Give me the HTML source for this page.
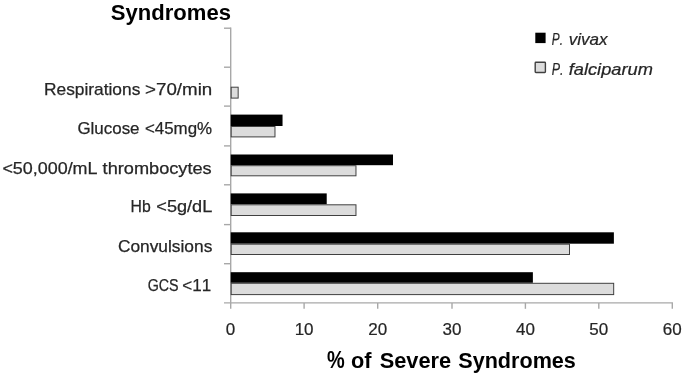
<!DOCTYPE html>
<html><head><meta charset="utf-8">
<style>
html,body{margin:0;padding:0;background:#fff;width:685px;height:376px;overflow:hidden}
svg{display:block;filter:blur(0.45px)}
text{font-family:"Liberation Sans",sans-serif;font-kerning:none}
.lab{font-size:16.4px;fill:#262626;stroke:#262626;stroke-width:0.25px}
.tick{font-size:17px;fill:#262626;stroke:#262626;stroke-width:0.22px}
.ttl{font-size:22px;font-weight:bold;fill:#000}
.leg{font-size:15.9px;font-style:italic;fill:#262626;stroke:#262626;stroke-width:0.22px}
</style></head>
<body>
<svg width="685" height="376" viewBox="0 0 685 376">
<text class="ttl" x="110.87" y="20.30" textLength="120.04" lengthAdjust="spacingAndGlyphs">Syndromes</text>
<text class="ttl" style="font-size:23.4px" x="327.10" y="368.00" textLength="17.72" lengthAdjust="spacingAndGlyphs">%</text>
<text class="ttl" x="351.05" y="368.00" textLength="20.51" lengthAdjust="spacingAndGlyphs">of</text>
<text class="ttl" x="379.67" y="368.00" textLength="71.47" lengthAdjust="spacingAndGlyphs">Severe</text>
<text class="ttl" x="458.28" y="368.00" textLength="117.61" lengthAdjust="spacingAndGlyphs">Syndromes</text>
<g stroke="#a8a8a8" stroke-width="1.4" fill="none">
<line x1="230.7" y1="27.5" x2="230.7" y2="308.8"/>
<line x1="224" y1="302.9" x2="673" y2="302.9"/>
<line x1="224" y1="28.20" x2="230.7" y2="28.20"/>
<line x1="224" y1="67.20" x2="230.7" y2="67.20"/>
<line x1="224" y1="106.10" x2="230.7" y2="106.10"/>
<line x1="224" y1="145.90" x2="230.7" y2="145.90"/>
<line x1="224" y1="184.80" x2="230.7" y2="184.80"/>
<line x1="224" y1="224.60" x2="230.7" y2="224.60"/>
<line x1="224" y1="263.70" x2="230.7" y2="263.70"/>
<line x1="304.10" y1="302.9" x2="304.10" y2="308.8"/>
<line x1="377.70" y1="302.9" x2="377.70" y2="308.8"/>
<line x1="452.00" y1="302.9" x2="452.00" y2="308.8"/>
<line x1="525.40" y1="302.9" x2="525.40" y2="308.8"/>
<line x1="598.80" y1="302.9" x2="598.80" y2="308.8"/>
<line x1="672.30" y1="302.9" x2="672.30" y2="308.8"/>
</g>
<g>
<rect x="231.2" y="87.20" width="6.96" height="10.90" fill="#dcdcdc" stroke="#404040" stroke-width="1"/>
<rect x="230.7" y="114.60" width="51.84" height="11.40" fill="#000"/>
<rect x="231.2" y="126.50" width="43.78" height="10.40" fill="#dcdcdc" stroke="#404040" stroke-width="1"/>
<rect x="230.7" y="154.50" width="162.29" height="10.70" fill="#000"/>
<rect x="231.2" y="165.70" width="124.77" height="10.10" fill="#dcdcdc" stroke="#404040" stroke-width="1"/>
<rect x="230.7" y="193.40" width="96.02" height="10.90" fill="#000"/>
<rect x="231.2" y="204.80" width="124.77" height="10.70" fill="#dcdcdc" stroke="#404040" stroke-width="1"/>
<rect x="230.7" y="232.30" width="383.18" height="11.40" fill="#000"/>
<rect x="231.2" y="244.20" width="338.30" height="10.30" fill="#dcdcdc" stroke="#404040" stroke-width="1"/>
<rect x="230.7" y="272.20" width="302.18" height="10.60" fill="#000"/>
<rect x="231.2" y="283.30" width="382.48" height="11.30" fill="#dcdcdc" stroke="#404040" stroke-width="1"/>
</g>
<text class="lab" x="43.98" y="95.20" textLength="96.35" lengthAdjust="spacingAndGlyphs">Respirations</text>
<text class="lab" style="font-size:16.8px" x="145.08" y="95.20" textLength="67.14" lengthAdjust="spacingAndGlyphs">&gt;70/min</text>
<text class="lab" x="77.45" y="134.00" textLength="62.10" lengthAdjust="spacingAndGlyphs">Glucose</text>
<text class="lab" style="font-size:16.8px" x="144.97" y="134.00" textLength="67.14" lengthAdjust="spacingAndGlyphs">&lt;45mg%</text>
<text class="lab" style="font-size:17px" x="2.42" y="173.90" textLength="95.08" lengthAdjust="spacingAndGlyphs">&lt;50,000/mL</text>
<text class="lab" x="102.63" y="173.90" textLength="109.03" lengthAdjust="spacingAndGlyphs">thrombocytes</text>
<text class="lab" style="font-size:16.9px" x="130.51" y="212.30" textLength="20.16" lengthAdjust="spacingAndGlyphs">Hb</text>
<text class="lab" style="font-size:16.8px" x="156.31" y="212.30" textLength="56.00" lengthAdjust="spacingAndGlyphs">&lt;5g/dL</text>
<text class="lab" x="117.92" y="251.90" textLength="94.41" lengthAdjust="spacingAndGlyphs">Convulsions</text>
<text class="lab" style="font-size:17.4px" x="147.68" y="291.30" textLength="30.97" lengthAdjust="spacingAndGlyphs">GCS</text>
<text class="lab" style="font-size:17.2px" x="182.36" y="291.30" textLength="28.87" lengthAdjust="spacingAndGlyphs">&lt;11</text>
<g class="tick" text-anchor="middle">
<text x="230.50" y="334.6">0</text>
<text x="304.10" y="334.6">10</text>
<text x="377.70" y="334.6">20</text>
<text x="452.00" y="334.6">30</text>
<text x="525.40" y="334.6">40</text>
<text x="598.80" y="334.6">50</text>
<text x="672.30" y="334.6">60</text>
</g>
<rect x="535.3" y="32.7" width="10.3" height="10.4" fill="#000"/>
<rect x="535.2" y="62.2" width="10.2" height="10.3" rx="0.7" fill="#dcdcdc" stroke="#404040" stroke-width="1.4"/>
<text class="leg" x="551.84" y="45.25" textLength="11.10" lengthAdjust="spacingAndGlyphs">P.</text>
<text class="leg" x="568.67" y="45.25" textLength="38.83" lengthAdjust="spacingAndGlyphs">vivax</text>
<text class="leg" x="551.82" y="75.40" textLength="11.70" lengthAdjust="spacingAndGlyphs">P.</text>
<text class="leg" x="568.68" y="75.40" textLength="84.26" lengthAdjust="spacingAndGlyphs">falciparum</text>
</svg>
</body></html>
